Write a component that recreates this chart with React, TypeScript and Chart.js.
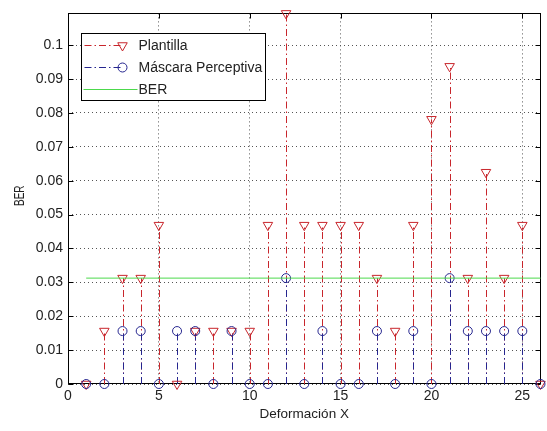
import { useEffect, useRef } from 'react';
import { Chart, registerables } from 'chart.js';

Chart.register(...registerables);

// ---- data ----
const deformacion = [1, 2, 3, 4, 5, 6, 7, 8, 9, 10, 11, 12, 13, 14, 15, 16, 17, 18, 19, 20, 21, 22, 23, 24, 25, 26];
const plantilla = [0, 0.015625, 0.03125, 0.03125, 0.046875, 0, 0.015625, 0.015625, 0.015625, 0.015625, 0.046875, 0.109375, 0.046875, 0.046875, 0.046875, 0.046875, 0.03125, 0.015625, 0.046875, 0.078125, 0.09375, 0.03125, 0.0625, 0.03125, 0.046875, 0];
const mascara = [0, 0, 0.015625, 0.015625, 0, 0.015625, 0.015625, 0, 0.015625, 0, 0, 0.03125, 0, 0.015625, 0, 0, 0.015625, 0, 0.015625, 0, 0.03125, 0.015625, 0.015625, 0.015625, 0.015625, 0];
const berLevel = 0.03125;
const berRange = [1, 26];
const xTicks = [0, 5, 10, 15, 20, 25];
const yTicks = [0, 0.01, 0.02, 0.03, 0.04, 0.05, 0.06, 0.07, 0.08, 0.09, 0.1];
const xLimits = [0, 26];
const yLimits = [0, 0.109375];
const legendLabels = ['Plantilla', 'Máscara Perceptiva', 'BER'];
const xTitle = 'Deformación X';
const yTitle = 'BER';

const RED = '#c8262c';
const BLUE = '#26268f';
const GREEN = '#4cd94c';
const FONT = '"Liberation Sans", Arial, sans-serif';
const TEXT = '#222';
const STEM_DASH = [7, 3, 1.5, 3];

function tri(ctx: CanvasRenderingContext2D, x: number, y: number, r: number) {
  ctx.beginPath();
  ctx.moveTo(x, y + r);
  ctx.lineTo(x - r * Math.sin(Math.PI / 3), y - r / 2);
  ctx.lineTo(x + r * Math.sin(Math.PI / 3), y - r / 2);
  ctx.closePath();
  ctx.stroke();
}

const stemsPlugin = {
  id: 'stems',
  beforeDatasetsDraw(chart: any) {
    const { ctx, scales } = chart;
    const xs = scales.x;
    const ys = scales.y;
    const draw = (vals: number[], color: string) => {
      ctx.save();
      ctx.strokeStyle = color;
      ctx.lineWidth = 1;
      ctx.setLineDash(STEM_DASH);
      vals.forEach((v, i) => {
        if (v === 0) return;
        const px = Math.round(xs.getPixelForValue(deformacion[i])) + 0.5;
        ctx.beginPath();
        ctx.moveTo(px, ys.getPixelForValue(0));
        ctx.lineTo(px, ys.getPixelForValue(v));
        ctx.stroke();
      });
      ctx.restore();
    };
    draw(plantilla, RED);
    draw(mascara, BLUE);
  },
};

const framePlugin = {
  id: 'frame',
  beforeDatasetsDraw(chart: any) {
    const { ctx, chartArea: a, scales } = chart;
    ctx.save();
    ctx.strokeStyle = '#000';
    ctx.lineWidth = 1;
    ctx.setLineDash([]);
    const L = Math.round(a.left) + 0.5, R = Math.round(a.right) - 0.5;
    const T = Math.round(a.top) + 0.5, B = Math.round(a.bottom) - 0.5;
    ctx.strokeRect(L, T, R - L, B - T);
    const tl = 5;
    ctx.beginPath();
    xTicks.forEach((v) => {
      const px = Math.round(scales.x.getPixelForValue(v)) + 0.5;
      ctx.moveTo(px, B); ctx.lineTo(px, B - tl);
      ctx.moveTo(px, T); ctx.lineTo(px, T + tl);
    });
    yTicks.forEach((v) => {
      const py = Math.round(scales.y.getPixelForValue(v)) + 0.5;
      ctx.moveTo(L, py); ctx.lineTo(L + tl, py);
      ctx.moveTo(R, py); ctx.lineTo(R - tl, py);
    });
    ctx.stroke();
    // y-axis title (slightly stretched across, as in the reference)
    ctx.save();
    ctx.translate(20, (a.top + a.bottom) / 2 - 3);
    ctx.rotate(-Math.PI / 2);
    ctx.scale(1, 1.4);
    ctx.font = `10px ${FONT}`;
    ctx.fillStyle = TEXT;
    ctx.textAlign = 'center';
    ctx.textBaseline = 'middle';
    ctx.fillText(yTitle, 0, 0);
    ctx.restore();
    ctx.restore();
  },
};

const legendPlugin = {
  id: 'matlabLegend',
  afterDatasetsDraw(chart: any) {
    const { ctx, chartArea: a } = chart;
    const bx = Math.round(a.left) + 13.5;
    const by = Math.round(a.top) + 20.5;
    const bw = 184;
    const bh = 67;
    ctx.save();
    ctx.fillStyle = '#fff';
    ctx.fillRect(bx, by, bw, bh);
    ctx.strokeStyle = '#000';
    ctx.lineWidth = 1;
    ctx.strokeRect(bx, by, bw, bh);
    const rows = [by + 12, by + 34, by + 56];
    const textX = bx + 57;
    ctx.font = `14px ${FONT}`;
    ctx.textBaseline = 'middle';
    ctx.fillStyle = TEXT;
    // Plantilla
    ctx.strokeStyle = RED;
    ctx.setLineDash(STEM_DASH);
    ctx.beginPath(); ctx.moveTo(bx + 3, rows[0]); ctx.lineTo(bx + 41, rows[0]); ctx.stroke();
    ctx.setLineDash([]);
    tri(ctx, bx + 41, rows[0], 5.5);
    // Mascara
    ctx.strokeStyle = BLUE;
    ctx.setLineDash(STEM_DASH);
    ctx.beginPath(); ctx.moveTo(bx + 3, rows[1]); ctx.lineTo(bx + 41, rows[1]); ctx.stroke();
    ctx.setLineDash([]);
    ctx.beginPath(); ctx.arc(bx + 41, rows[1], 4.5, 0, Math.PI * 2); ctx.stroke();
    // BER
    ctx.strokeStyle = GREEN;
    ctx.beginPath(); ctx.moveTo(bx + 2, rows[2]); ctx.lineTo(bx + 56, rows[2]); ctx.stroke();
    legendLabels.forEach((t, i) => ctx.fillText(t, textX, rows[i] + 1));
    ctx.restore();
  },
};

export default function App() {
  const ref = useRef<HTMLCanvasElement>(null);
  useEffect(() => {
    const chart = new Chart(ref.current!, {
      type: 'scatter',
      data: {
        datasets: [
          {
            type: 'line',
            label: legendLabels[2],
            data: berRange.map((x) => ({ x, y: berLevel })),
            borderColor: GREEN,
            borderWidth: 1,
            pointRadius: 0,
            clip: false,
          } as any,
          {
            label: legendLabels[1],
            data: deformacion.map((x, i) => ({ x, y: mascara[i] })),
            pointStyle: 'circle',
            pointRadius: 4.5,
            borderColor: BLUE,
            backgroundColor: 'rgba(0,0,0,0)',
            borderWidth: 1,
            clip: false,
          },
          {
            label: legendLabels[0],
            data: deformacion.map((x, i) => ({ x, y: plantilla[i] })),
            pointStyle: 'triangle',
            rotation: 180,
            pointRadius: 5.5,
            borderColor: RED,
            backgroundColor: 'rgba(0,0,0,0)',
            borderWidth: 1,
            clip: false,
          },
        ],
      },
      options: {
        responsive: false,
        animation: false,
        layout: { padding: { top: 8, right: 4, left: 0, bottom: 0 } },
        plugins: { legend: { display: false }, tooltip: { enabled: false } },
        scales: {
          x: {
            type: 'linear',
            min: xLimits[0],
            max: xLimits[1],
            afterBuildTicks: (s: any) => { s.ticks = xTicks.map((value) => ({ value })); },
            afterFit: (s: any) => { s.height = 47; },
            grid: { color: '#555', lineWidth: 1, drawTicks: false },
            border: { display: false, dash: [1, 3] },
            ticks: { padding: 4, color: TEXT, font: { family: FONT, size: 14 }, callback: (v: any) => String(v) },
            title: { display: true, text: xTitle, color: TEXT, font: { family: FONT, size: 13.5 }, padding: { top: 0, bottom: 9 } },
          },
          y: {
            type: 'linear',
            min: yLimits[0],
            max: yLimits[1],
            afterBuildTicks: (s: any) => { s.ticks = yTicks.map((value) => ({ value })); },
            afterFit: (s: any) => { s.width = 68; },
            grid: { color: '#555', lineWidth: 1, drawTicks: false },
            border: { display: false, dash: [1, 3] },
            ticks: { padding: 5, color: TEXT, font: { family: FONT, size: 14 }, callback: (v: any) => (v === 0 ? '0' : String(+Number(v).toFixed(2))) },
            title: { display: false },
          },
        },
      },
      plugins: [framePlugin, stemsPlugin, legendPlugin],
    });
    return () => chart.destroy();
  }, []);
  return (
    <div style={{ position: 'fixed', left: 0, top: 0, width: 547, height: 431, background: '#fff' }}>
      <canvas ref={ref} width={547} height={431} style={{ display: 'block' }} />
    </div>
  );
}
